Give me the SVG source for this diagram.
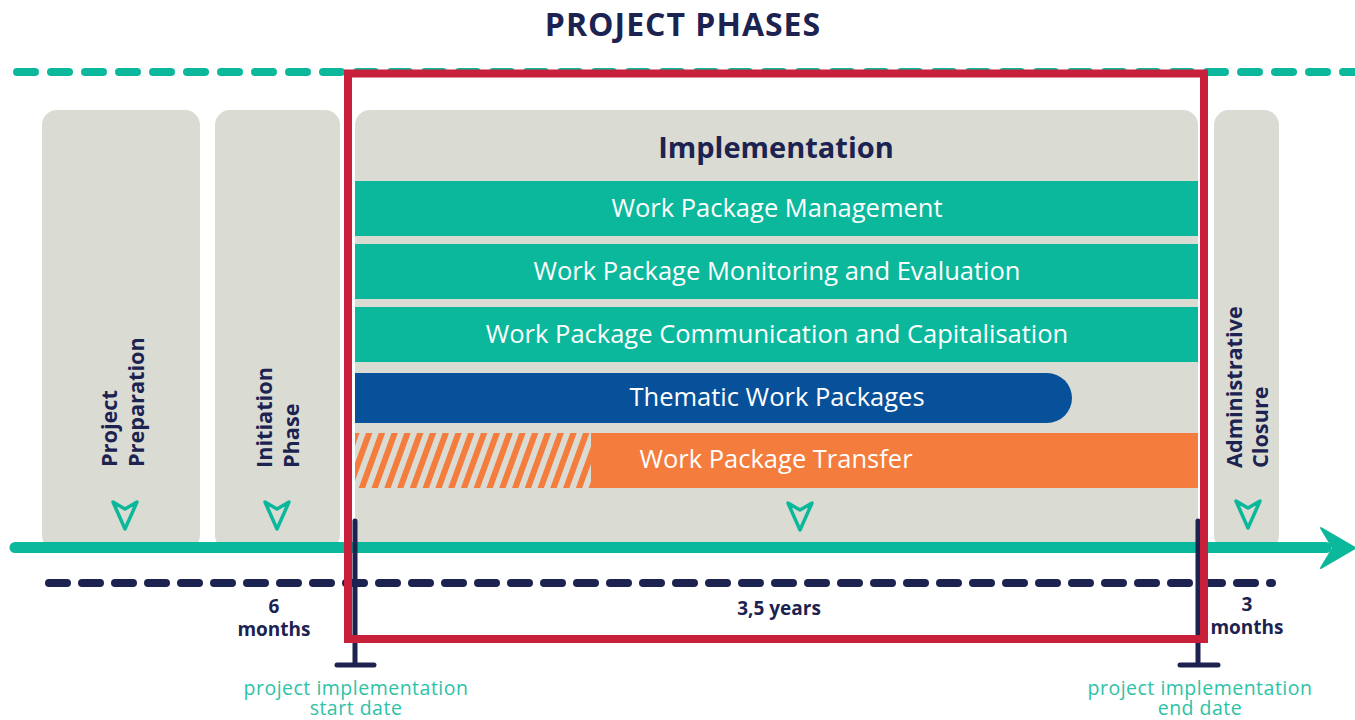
<svg xmlns="http://www.w3.org/2000/svg" width="1355" height="720" viewBox="0 0 1355 720">
<style>
.grey{fill:#dadbd3}
.teal{fill:#0bb89b}
.navy{fill:#1c2350;font-family:"Open Sans","Noto Sans",sans-serif;font-weight:bold}
.bar{fill:#ffffff;font-family:"Open Sans","Noto Sans",sans-serif;font-size:25.5px;text-anchor:middle}
.vt{fill:#1c2350;font-family:"Open Sans","Noto Sans",sans-serif;font-weight:bold;font-size:21.7px}
.dur{fill:#1c2350;font-family:"Open Sans","Noto Sans",sans-serif;font-weight:bold;font-size:19px;text-anchor:middle}
.date{fill:#2ec2a6;font-family:"Open Sans","Noto Sans",sans-serif;font-size:19.5px;letter-spacing:0.5px;text-anchor:middle}
.mark{fill:none;stroke:#0bb89b;stroke-width:3.5;stroke-linejoin:round}
.tick{stroke:#1c2350;stroke-width:5;stroke-linecap:round;fill:none}
</style>
<defs>
<pattern id="hatch" patternUnits="userSpaceOnUse" width="12" height="12" patternTransform="rotate(20)">
<rect width="12" height="12" fill="#dadbd3"/>
<rect width="6" height="12" fill="#f47c3c"/>
</pattern>
<path id="vmark" d="M-12,0 L0,7 L12,0 L0,27 Z"/>
</defs>
<rect width="1355" height="720" fill="#ffffff"/>

<text class="navy" x="683" y="36" font-size="32" letter-spacing="1" text-anchor="middle">PROJECT PHASES</text>

<g id="connectors">
<line x1="17" y1="72" x2="1355" y2="72" stroke="#0bb89b" stroke-width="8" stroke-linecap="round" stroke-dasharray="18 16"/>
</g>

<g id="project-preparation">
<rect class="grey" x="42" y="110" width="158" height="440" rx="15"/>
<text class="vt" transform="translate(117,467) rotate(-90)"><tspan x="0" y="0">Project</tspan><tspan x="0" y="27">Preparation</tspan></text>
<use href="#vmark" class="mark" x="125" y="502"/>
</g>

<g id="initiation-phase">
<rect class="grey" x="215" y="110" width="125" height="440" rx="15"/>
<text class="vt" transform="translate(272,468) rotate(-90)"><tspan x="0" y="0">Initiation</tspan><tspan x="0" y="27">Phase</tspan></text>
<use href="#vmark" class="mark" x="277" y="502"/>
</g>

<g id="implementation">
<rect class="grey" x="355" y="110" width="843" height="440" rx="15"/>
<text class="navy" x="776" y="158" font-size="29" text-anchor="middle">Implementation</text>
<use href="#vmark" class="mark" x="800" y="503"/>
</g>

<g id="wp-management">
<rect class="teal" x="355" y="181" width="843" height="55"/>
<text class="bar" x="777" y="217">Work Package Management</text>
</g>
<g id="wp-monitoring">
<rect class="teal" x="355" y="244" width="843" height="55"/>
<text class="bar" x="777" y="280">Work Package Monitoring and Evaluation</text>
</g>
<g id="wp-communication">
<rect class="teal" x="355" y="307" width="843" height="55"/>
<text class="bar" x="777" y="343">Work Package Communication and Capitalisation</text>
</g>
<g id="wp-thematic">
<path d="M355,373 H1047 A25,25 0 0 1 1047,423 H355 Z" fill="#07519b"/>
<text class="bar" x="777" y="406">Thematic Work Packages</text>
</g>
<g id="wp-transfer">
<rect x="355" y="433" width="236" height="55" fill="url(#hatch)"/>
<rect x="591" y="433" width="607" height="55" fill="#f47c3c"/>
<text class="bar" x="776" y="468">Work Package Transfer</text>
</g>

<g id="administrative-closure">
<rect class="grey" x="1214" y="110" width="65" height="440" rx="15"/>
<text class="vt" transform="translate(1242,468) rotate(-90)"><tspan x="0" y="0">Administrative</tspan><tspan x="0" y="26">Closure</tspan></text>
<use href="#vmark" class="mark" x="1248" y="501"/>
</g>

<g id="timeline">
<line x1="15" y1="547.5" x2="1326" y2="547.5" stroke="#0bb89b" stroke-width="11" stroke-linecap="round"/>
<path d="M1321,528 L1355,548 L1321,568 L1333,548 Z" fill="#0bb89b" stroke="#0bb89b" stroke-width="2" stroke-linejoin="round"/>
<line x1="49" y1="583" x2="1272" y2="583" stroke="#1c2350" stroke-width="8" stroke-linecap="round" stroke-dasharray="18 15"/>
<path class="tick" d="M355,521 V665 M337,665 H374"/>
<path class="tick" d="M1198,521 V665 M1180,665 H1218"/>
</g>

<g id="durations">
<text class="dur"><tspan x="274" y="613">6</tspan><tspan x="274" y="636">months</tspan></text>
<text class="dur" x="779" y="615" font-size="18.5">3,5 years</text>
<text class="dur"><tspan x="1247" y="611">3</tspan><tspan x="1247" y="634">months</tspan></text>
</g>

<g id="dates">
<text class="date"><tspan x="356" y="695">project implementation</tspan><tspan x="356" y="715">start date</tspan></text>
<text class="date"><tspan x="1200" y="695">project implementation</tspan><tspan x="1200" y="715">end date</tspan></text>
</g>

<g id="highlight">
<rect x="348" y="73.5" width="856" height="565.5" fill="none" stroke="#c8203b" stroke-width="8"/>
</g>
</svg>
